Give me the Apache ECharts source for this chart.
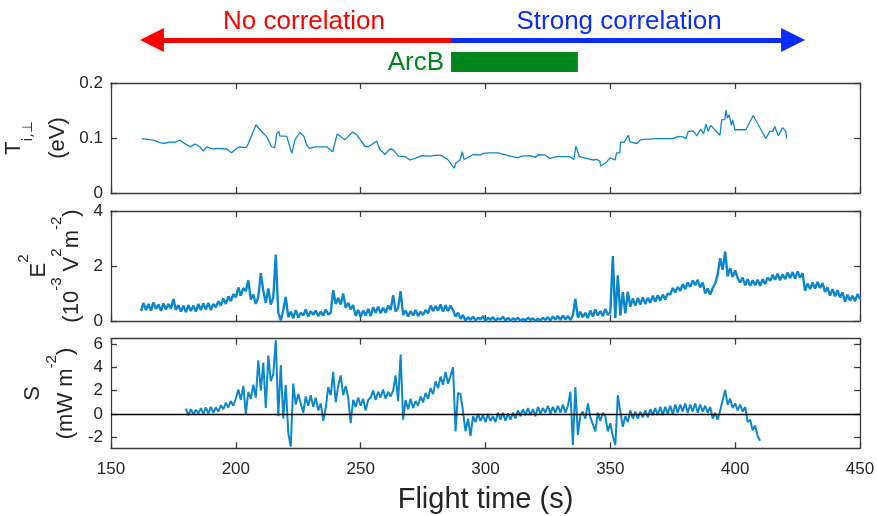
<!DOCTYPE html>
<html><head><meta charset="utf-8">
<script src="https://cdn.jsdelivr.net/npm/echarts@6/dist/echarts.min.js"></script>
<style>html,body{margin:0;padding:0;background:#fff}#c{width:877px;height:516px}</style>
</head><body><div id="c"></div>
<script>
// ---------- data ----------
const xTicks = [150, 200, 250, 300, 350, 400, 450];
const tempTicks = [0, 0.1, 0.2];
const e2Ticks = [0, 2, 4];
const sTicks = [-2, 0, 2, 4, 6];

const tempTime = [162.3,166.8,168.8,170.8,174.3,175.5,177.6,178.5,181.6,183.7,185.6,186.9,188.3,190.9,192.5,196.3,198.3,200.3,201.7,203.0,204.3,205.0,205.8,208.1,209.7,212.4,213.2,214.3,215.6,216.4,217.3,217.6,220.4,222.4,223.7,225.7,227.3,228.4,229.7,231.7,236.4,238.8,240.6,241.6,243.7,246.8,248.4,251.7,253.0,256.4,257.7,259.7,261.7,263.0,265.1,267.8,269.8,272.4,274.4,277.8,280.4,282.4,285.1,287.4,288.2,289.8,290.7,291.4,295.1,297.8,299.1,301.1,301.8,305.1,309.8,313.1,314.5,317.8,320.2,321.1,323.8,325.8,328.5,333.8,335.4,336.2,337.6,341.2,343.2,344.5,345.8,346.1,348.5,349.8,351.9,352.5,353.8,354.1,355.5,357.2,357.9,360.6,362.2,368.6,375.2,377.2,379.0,380.3,381.2,383.2,384.6,386.2,387.4,388.3,389.2,390.2,393.9,394.6,395.9,396.3,396.9,397.6,398.5,399.0,399.9,401.0,404.3,407.2,412.3,413.9,415.0,415.9,417.3,419.0,420.3,420.6];
const tempVal = [0.099,0.096,0.093,0.090,0.093,0.092,0.096,0.093,0.084,0.089,0.084,0.076,0.084,0.080,0.081,0.080,0.073,0.081,0.084,0.083,0.083,0.090,0.093,0.124,0.115,0.102,0.100,0.084,0.083,0.108,0.112,0.104,0.103,0.072,0.097,0.110,0.103,0.087,0.081,0.084,0.084,0.075,0.107,0.104,0.097,0.111,0.106,0.085,0.084,0.094,0.079,0.070,0.080,0.079,0.067,0.066,0.060,0.064,0.068,0.067,0.069,0.068,0.060,0.045,0.055,0.060,0.075,0.061,0.070,0.069,0.072,0.073,0.070,0.073,0.067,0.064,0.067,0.068,0.065,0.070,0.069,0.063,0.066,0.066,0.061,0.085,0.066,0.062,0.060,0.061,0.058,0.049,0.056,0.064,0.060,0.073,0.073,0.093,0.092,0.105,0.093,0.090,0.097,0.099,0.099,0.103,0.102,0.099,0.112,0.113,0.104,0.116,0.108,0.125,0.112,0.123,0.105,0.133,0.134,0.151,0.136,0.142,0.123,0.133,0.115,0.115,0.115,0.141,0.099,0.112,0.112,0.121,0.104,0.119,0.112,0.099];

// E^2, one value per second starting at e2Start
const e2Start = 162;
const e2Val = [
0.36,0.66,0.40,0.62,0.38,0.68,0.44,0.60,0.37,0.64,
0.42,0.62,0.45,0.80,0.40,0.58,0.34,0.56,0.32,0.58,
0.36,0.56,0.34,0.62,0.40,0.64,0.42,0.66,0.40,0.62,
0.50,0.72,0.56,0.82,0.62,0.90,0.72,0.98,0.86,1.22,
0.92,1.20,1.08,1.48,0.78,0.96,0.62,0.88,1.74,1.10,
0.66,1.18,0.60,0.86,2.42,0.30,0.02,0.40,0.88,0.14,
0.34,0.10,0.40,0.12,0.30,0.20,0.42,0.16,0.36,0.22,
0.38,0.18,0.34,0.20,0.42,0.24,0.30,1.12,0.62,0.84,
0.60,1.00,0.48,0.66,0.42,0.58,0.18,0.40,0.16,0.38,
0.20,0.44,0.18,0.50,0.30,0.52,0.28,0.48,0.30,0.56,
0.40,0.94,0.34,0.48,1.08,0.22,0.38,0.16,0.36,0.20,
0.40,0.18,0.34,0.22,0.40,0.28,0.56,0.36,0.54,0.38,
0.60,0.34,0.58,0.36,0.56,0.40,0.16,0.30,0.08,0.22,
0.02,0.14,0.04,0.16,0.02,0.12,0.06,0.18,0.00,0.12,
0.04,0.14,0.02,0.10,0.06,0.16,0.02,0.12,0.00,0.10,
0.04,0.12,0.00,0.08,0.02,0.12,0.04,0.10,0.00,0.08,
0.02,0.12,0.04,0.14,0.02,0.16,0.06,0.18,0.04,0.20,
0.06,0.18,0.04,0.20,0.80,0.12,0.34,0.14,0.30,0.10,
0.38,0.16,0.42,0.20,0.36,0.18,0.44,0.22,0.32,2.36,
0.10,1.66,0.20,1.05,0.28,1.07,0.52,0.82,0.56,0.84,
0.60,0.86,0.62,0.84,0.66,0.92,0.70,0.94,0.74,0.96,
0.78,1.00,0.96,1.20,1.04,1.24,1.10,1.34,1.16,1.40,
1.24,1.48,1.30,1.50,1.22,1.40,1.00,1.18,0.96,1.20,
1.36,1.70,2.28,1.86,2.52,1.62,1.92,1.60,1.84,1.56,
1.40,1.58,1.30,1.52,1.28,1.48,1.30,1.50,1.28,1.52,
1.34,1.58,1.46,1.68,1.50,1.72,1.48,1.70,1.52,1.76,
1.56,1.78,1.54,1.80,1.58,1.74,1.10,1.36,1.16,1.40,
1.18,1.42,1.20,1.38,1.06,1.22,0.92,1.16,0.90,1.12,
0.86,1.04,0.70,0.96,0.74,0.92,0.72,0.98,0.80];

// S, one value per second starting at sStart
const sStart = 180;
const sVal = [
0.45,-0.10,0.40,-0.05,0.35,0.05,0.50,0.00,0.55,0.05,
0.60,0.10,0.55,0.20,0.75,0.40,0.95,0.55,1.10,0.70,
1.30,2.10,1.20,2.40,0.00,1.90,1.30,2.50,1.40,4.60,
2.00,4.40,0.50,5.00,2.80,3.40,6.34,-0.20,4.20,-0.40,
2.50,-1.60,-2.80,2.60,0.80,1.70,0.90,0.10,1.50,0.70,
1.60,0.60,1.40,0.30,0.90,-0.60,0.50,2.30,1.60,3.60,
1.00,2.40,3.30,1.60,2.40,1.40,-0.80,1.20,0.60,1.40,
0.70,1.30,0.30,1.20,1.40,2.00,1.20,1.90,1.40,2.10,
1.30,1.90,1.50,2.00,3.30,1.10,5.10,-0.50,1.20,0.40,
1.30,0.50,1.10,0.70,1.50,1.00,1.80,1.30,2.20,1.70,
2.80,2.20,3.20,2.50,3.60,2.60,3.30,4.00,-1.50,1.80,
1.70,0.20,-1.50,-0.40,-1.90,-0.20,-0.70,0.00,-0.60,-0.10,
-0.70,0.00,-0.60,-0.20,-0.70,0.10,-0.50,0.10,-0.60,0.05,
-0.50,0.10,-0.40,0.30,-0.20,0.40,-0.10,0.50,-0.10,0.40,
-0.20,0.60,0.00,0.50,0.10,0.70,0.00,0.60,0.10,0.70,
0.10,0.80,0.10,0.70,1.90,-2.66,2.30,-1.80,-0.10,0.20,
-0.40,0.90,-0.30,-0.90,-1.50,0.10,-0.60,0.10,-0.20,-1.50,
-0.80,-1.90,-2.66,1.60,0.20,-1.10,-0.20,-0.70,0.30,-0.40,
0.20,-0.40,0.20,-0.30,0.30,-0.30,0.40,-0.10,0.50,-0.10,
0.60,-0.10,0.60,0.00,0.70,0.00,0.80,0.10,0.80,0.20,
0.90,0.10,0.80,0.20,0.90,0.10,0.80,0.20,0.70,0.10,
0.60,-0.40,0.10,-0.50,0.30,1.20,2.06,0.80,1.30,0.50,
0.90,0.30,0.80,0.20,0.60,-0.70,-0.50,-1.40,-1.00,-1.90,
-2.30];

// annotation (time in s)
const arrowSplit = 286.2;
const arrowLeftEnd = 166.4;
const arrowRightEnd = 423.2;
const arcBRange = [286.2, 337.0];
const annoLabels = [
  { text: 'No correlation', t: 227.3, color: '#ff0000', align: 'center', row: 'top' },
  { text: 'Strong correlation', t: 353.5, color: '#0a2cff', align: 'center', row: 'top' },
  { text: 'ArcB', t: 283.8, color: '#00861d', align: 'right', row: 'bar' }
];

// ---------- chart ----------
const FONT = '"Liberation Sans", Arial, Helvetica, sans-serif';
const TXT = '#262626';
const BOX = '#3c3c3c';
const BLUE = '#0a87cf';
const ROW = { arrow: 0.5, top: 0.725, bar: 0.21 };

const gridBase = { left: 111, width: 749, outerBoundsMode: 'none', containLabel: false };
const grids = [
  Object.assign({}, gridBase, { top: 0, height: 80 }),
  Object.assign({}, gridBase, { top: 83, height: 110 }),
  Object.assign({}, gridBase, { top: 211, height: 110 }),
  Object.assign({}, gridBase, { top: 338.7, height: 109.6 })
];

const xAxes = [{ gridIndex: 0, type: 'value', min: 150, max: 450, show: false }];
const yAxes = [{ gridIndex: 0, type: 'value', min: 0, max: 1, show: false }];

const lineCommon = { show: true, onZero: false, lineStyle: { color: BOX, width: 1.3 } };
const tickCommon = { show: true, inside: true, length: 6, lineStyle: { color: BOX, width: 1.3 } };

for (let g = 1; g <= 3; g++) {
  const last = g === 3;
  xAxes.push({
    gridIndex: g, type: 'value', position: 'bottom', min: 150, max: 450, interval: 50,
    axisLine: lineCommon, axisTick: tickCommon, splitLine: { show: false },
    axisLabel: { show: last, color: TXT, fontFamily: FONT, fontSize: 17, margin: 13 },
    name: last ? 'Flight time (s)' : '', nameLocation: 'middle', nameGap: 37,
    nameTextStyle: { color: TXT, fontFamily: FONT, fontSize: 29 }
  });
  xAxes.push({
    gridIndex: g, type: 'value', position: 'top', min: 150, max: 450, interval: 50,
    axisLine: lineCommon, axisTick: tickCommon, splitLine: { show: false }, axisLabel: { show: false }
  });
}

const rich = {
  a: { fontFamily: FONT, fontSize: 22, color: TXT, lineHeight: 24, verticalAlign: 'bottom' },
  b: { fontFamily: FONT, fontSize: 22, color: TXT, lineHeight: 24, verticalAlign: 'top' },
  sp: { fontFamily: FONT, fontSize: 15, color: TXT, lineHeight: 16, verticalAlign: 'top' },
  sb: { fontFamily: '"DejaVu Sans", ' + FONT, fontSize: 14, color: TXT, lineHeight: 16, verticalAlign: 'bottom' },
  g: { fontSize: 10, lineHeight: 33 }
};

const yDefs = [
  { min: 0, max: 0.2, ticks: tempTicks, name: '{g|\u200b}{b|T}{sb|i,\u22a5}\n{g|\u200b}{a|(eV)}', gap: 37 },
  { min: 0, max: 4, ticks: e2Ticks, name: '{g|\u200b}{a|E}{sp|2}\n{g|\u200b}{a|(10}{sp|-3}{a| V}{sp|2}{a|m}{sp|-2}{a|)}', gap: 27 },
  { min: -2.95, max: 6.45, ticks: sTicks, name: '{g|\u200b}{a|S}\n{g|\u200b}{a|(mW m}{sp|-2}{a|)}', gap: 28 }
];

yDefs.forEach((d, i) => {
  const g = i + 1;
  yAxes.push({
    gridIndex: g, type: 'value', position: 'left', min: d.min, max: d.max,
    axisLine: lineCommon,
    axisTick: Object.assign({}, tickCommon, { customValues: d.ticks }),
    axisLabel: { color: TXT, fontFamily: FONT, fontSize: 17, margin: 8, customValues: d.ticks },
    splitLine: { show: false },
    name: d.name, nameLocation: 'middle', nameRotate: 90, nameGap: d.gap,
    nameTextStyle: { rich: rich, align: 'center' }
  });
  yAxes.push({
    gridIndex: g, type: 'value', position: 'right', min: d.min, max: d.max,
    axisLine: lineCommon,
    axisTick: Object.assign({}, tickCommon, { customValues: d.ticks }),
    axisLabel: { show: false }, splitLine: { show: false }
  });
});

const tempData = tempTime.map((t, i) => [t, tempVal[i]]);
const e2Data = e2Val.map((v, i) => [e2Start + i, v]);
const sData = sVal.map((v, i) => [sStart + i, v]);

const series = [
  {
    type: 'lines', coordinateSystem: 'cartesian2d', xAxisIndex: 0, yAxisIndex: 0, silent: true,
    symbol: ['none', 'triangle'], symbolSize: 24,
    data: [
      { coords: [[arrowSplit, ROW.arrow], [arrowLeftEnd, ROW.arrow]], lineStyle: { color: '#ff0000', width: 5 } },
      { coords: [[arrowSplit, ROW.arrow], [arrowRightEnd, ROW.arrow]], lineStyle: { color: '#0a2cff', width: 5 } }
    ],
    lineStyle: { opacity: 1, cap: 'butt' }
  },
  {
    type: 'lines', coordinateSystem: 'cartesian2d', xAxisIndex: 0, yAxisIndex: 0, silent: true,
    symbol: ['none', 'none'],
    data: [{ coords: [[arcBRange[0], 0.225], [arcBRange[1], 0.225]] }],
    lineStyle: { color: '#00861d', width: 20, opacity: 1, cap: 'butt' }
  },
  {
    type: 'scatter', xAxisIndex: 0, yAxisIndex: 0, silent: true, symbolSize: 2,
    itemStyle: { color: 'rgba(0,0,0,0)', opacity: 1 },
    labelLayout: { hideOverlap: false },
    data: annoLabels.map(a => ({
      value: [a.t, ROW[a.row]], name: a.text,
      label: {
        show: true, formatter: a.text, color: a.color, opacity: 1, fontFamily: FONT, fontSize: 26,
        position: a.align === 'right' ? 'left' : 'inside', distance: 0
      }
    }))
  },
  {
    type: 'line', xAxisIndex: 1, yAxisIndex: 1, data: tempData, showSymbol: false, silent: true,
    lineStyle: { color: BLUE, width: 1.3 }
  },
  {
    type: 'line', xAxisIndex: 3, yAxisIndex: 3, data: e2Data, showSymbol: false, silent: true,
    lineStyle: { color: BLUE, width: 2.4 }
  },
  {
    type: 'line', xAxisIndex: 5, yAxisIndex: 5, data: sData, showSymbol: false, silent: true,
    lineStyle: { color: BLUE, width: 2.0 },
    markLine: {
      silent: true, symbol: 'none', label: { show: false },
      lineStyle: { color: '#000', width: 1.4, type: 'solid' },
      data: [{ yAxis: 0 }]
    }
  }
];

const chart = echarts.init(document.getElementById('c'), null, { renderer: 'canvas' });
chart.setOption({
  animation: false,
  backgroundColor: '#fff',
  grid: grids,
  xAxis: xAxes,
  yAxis: yAxes,
  series: series
});
</script>
</body></html>
